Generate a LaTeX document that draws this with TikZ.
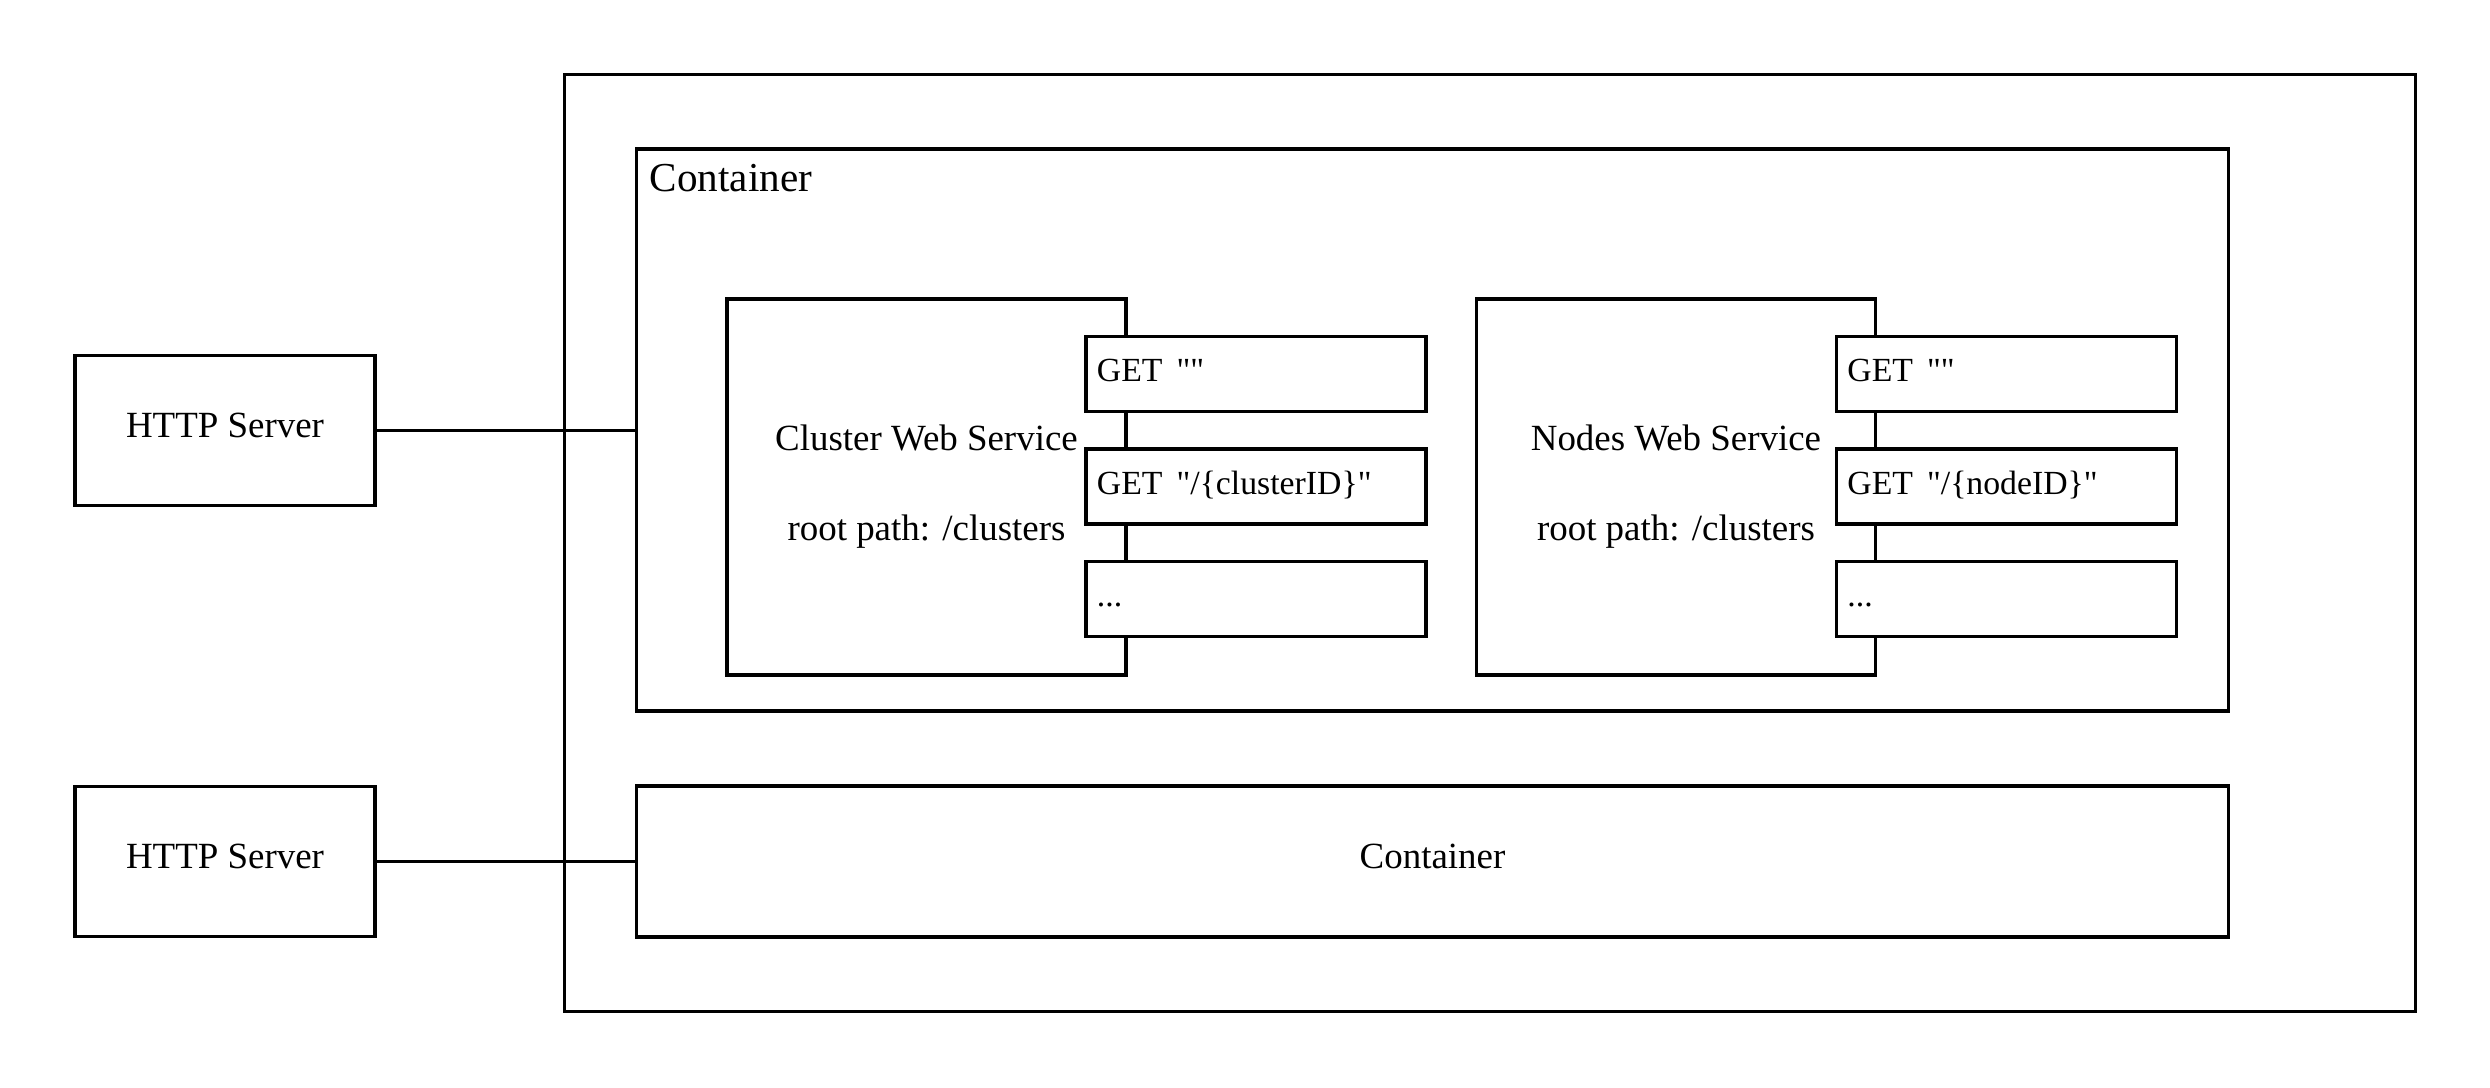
\documentclass[tikz,border=0pt]{standalone}
\usepackage{fontspec}
\setmainfont{Liberation Serif}
\newfontfamily\routefont{Liberation Serif}
\begin{document}
\begin{tikzpicture}[x=0.01cm, y=-0.01cm, line width=1pt,
    box/.style={draw, rectangle, inner sep=0pt, outer sep=0pt, font=\fontsize{10.5}{12.6}\selectfont},
    server/.style={box, minimum width=3cm, minimum height=1.5cm, text height=8pt, text depth=4pt},
    service/.style={box, minimum width=3.99cm, minimum height=3.76cm, align=center},
    route/.style={box, fill=white, minimum width=3.4cm, minimum height=0.75cm,
        inner xsep=0.11cm, text width=3.18cm, align=left, text height=7.8pt, text depth=3.5pt,
        font=\routefont\fontsize{9.6}{11.5}\selectfont}]
    \useasboundingbox (0,0) rectangle (2490,1088);
    % frames
    \node[box, minimum width=18.5cm, minimum height=9.36cm] (host) at (1490,543) {};
    \node[box, minimum width=15.91cm, minimum height=5.62cm] (cont1) at (1432.5,430) {};
    \node[anchor=west, inner sep=0pt, font=\fontsize{11.7}{14}\selectfont] (cont1label) at (648,178) {Container};
    \node[box, minimum width=15.91cm, minimum height=1.51cm, text height=8pt, text depth=4pt] (cont2) at (1432.5,861.5) {Container};
    % servers
    \node[server] (http1) at (225,430.5) {HTTP Server};
    \node[server] (http2) at (225,861.5) {HTTP Server};
    % web services
    \node[service] (cws) at (926.5,487) {Cluster Web Service\\[13pt]root path: /clusters};
    \node[route] (cget1) at (1256,374) {GET\ \kern0.8pt""};
    \node[route] (cget2) at (1256,486.5) {GET\ \kern0.8pt"/\{clusterID\}"};
    \node[route] (cmore) at (1256,599) {...};
    \node[service] (nws) at (1676,487) {Nodes Web Service\\[13pt]root path: /clusters};
    \node[route] (nget1) at (2006.5,374) {GET\ \kern0.8pt""};
    \node[route] (nget2) at (2006.5,486.5) {GET\ \kern0.8pt"/\{nodeID\}"};
    \node[route] (nmore) at (2006.5,599) {...};
    % links
    \draw (http1.east) -- (http1.east -| cont1.west);
    \draw (http2.east) -- (cont2.west);
\end{tikzpicture}
\end{document}
